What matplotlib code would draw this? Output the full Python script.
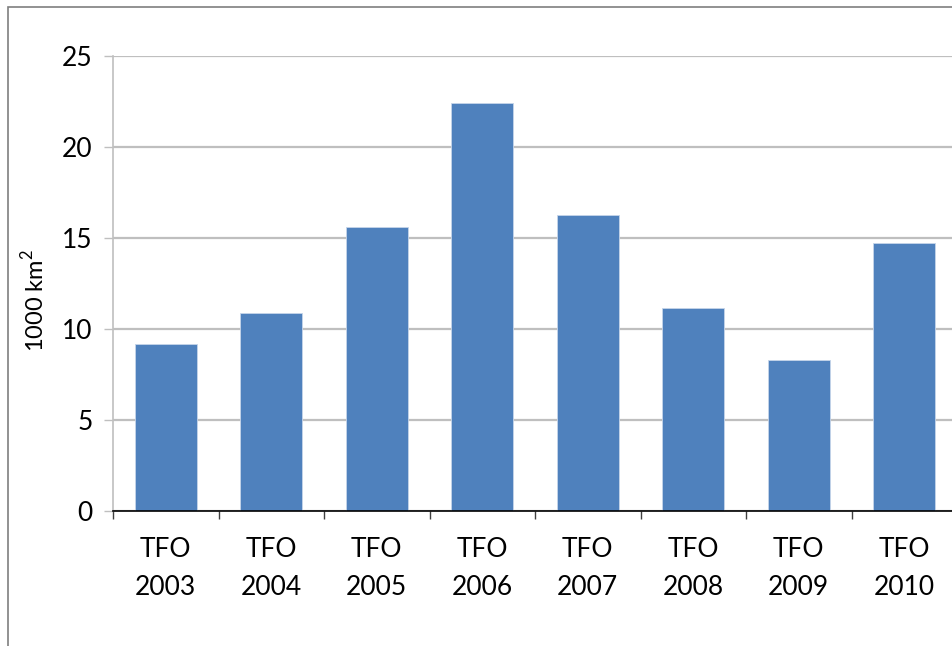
import numpy as np
import matplotlib.pyplot as plt
from matplotlib.patches import Rectangle

plt.rcParams['font.family'] = ['Lato', 'DejaVu Sans']
plt.rcParams['mathtext.fontset'] = 'custom'
plt.rcParams['mathtext.rm'] = 'Lato'

# data
years = ["2003", "2004", "2005", "2006", "2007", "2008", "2009", "2010"]
labels = ["TFO\n" + y for y in years]
area = [9.2, 10.9, 15.6, 22.4, 16.25, 11.15, 8.3, 14.75]
yticks = [0, 5, 10, 15, 20, 25]

fig = plt.figure(figsize=(9.52, 6.46), dpi=100)

# chart frame (runs off the right and bottom edge like the source)
fig.patches.append(Rectangle((8/952, -0.1), 1.2, 1 - 7/646 + 0.1,
                             transform=fig.transFigure, fill=False,
                             edgecolor="#7f7f7f", lw=1.2))

ax = fig.add_axes([113/952, 1 - 511/646, 844/952, 455/646])
x = np.arange(len(years))
ax.bar(x, area, width=0.59, color="#4F81BD", edgecolor="#C6D5EA", linewidth=0.6, zorder=3)

ax.set_xlim(-0.5, len(years) - 0.5)
ax.set_ylim(0, 25)
ax.set_yticks(yticks)
ax.yaxis.grid(True, color="#BFBFBF", lw=1.6, zorder=0)

ax.set_xticks(x)
ax.set_xticklabels(labels, fontsize=19, linespacing=1.65)
ax.set_xticks(np.arange(-0.5, len(years)), minor=True)
ax.tick_params(axis="x", which="major", length=0, pad=19)
ax.tick_params(axis="x", which="minor", length=6, color="#404040", width=1)
ax.tick_params(axis="y", length=6.5, color="#BFBFBF", width=1, labelsize=19, pad=8)

for s in ["top", "right"]:
    ax.spines[s].set_visible(False)
ax.spines["left"].set_color("#BFBFBF")
ax.spines["left"].set_linewidth(1.2)
ax.spines["bottom"].set_color("black")
ax.spines["bottom"].set_linewidth(1.2)
ax.spines["bottom"].set_zorder(4)

fig.text(34/952, 1 - 300/646, r"1000 km$^\mathrm{2}$", rotation=90, fontsize=17,
         ha="center", va="center")

fig.savefig("out.png", dpi=100)
